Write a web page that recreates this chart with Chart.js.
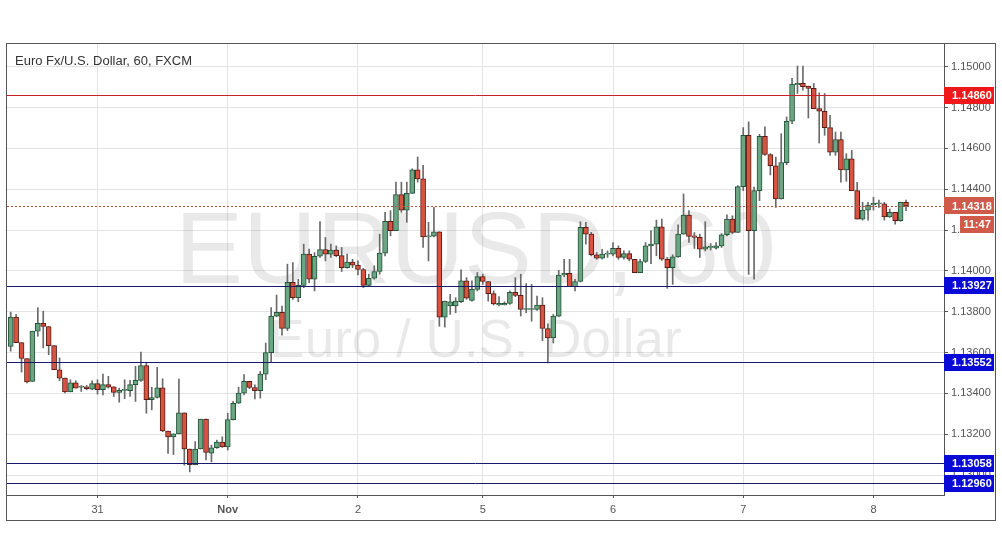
<!DOCTYPE html>
<html><head><meta charset="utf-8">
<script src="https://cdn.jsdelivr.net/npm/chart.js@4.4.1/dist/chart.umd.min.js"></script>
<style>html,body{margin:0;padding:0;background:#fff;overflow:hidden}canvas{display:block}</style>
</head><body>
<canvas id="c" width="1002" height="557"></canvas>
<script>
const title = 'Euro Fx/U.S. Dollar, 60, FXCM';
const watermark = ['EURUSD, 60', 'Euro / U.S. Dollar'];

const opens = [
1.13630,1.13774,1.13649,1.13571,1.13459,1.13705,1.13743,1.13728,1.13634,1.13516,
1.13475,1.13408,1.13452,1.13431,1.13433,1.13421,1.13448,1.13418,1.13443,1.13433,
1.13405,1.13415,1.13413,1.13443,1.13464,1.13536,1.13369,1.13380,1.13428,1.13216,
1.13187,1.13202,1.13305,1.13128,1.13051,1.13128,1.13274,1.13108,1.13134,1.13162,
1.13138,1.13272,1.13352,1.13401,1.13459,1.13429,1.13413,1.13495,1.13600,1.13779,
1.13797,1.13718,1.13944,1.13869,1.13929,1.14082,1.13959,1.14072,1.14105,1.14082,
1.14102,1.14075,1.14016,1.14043,1.14028,1.14007,1.13929,1.13964,1.13997,1.14087,
1.14243,1.14197,1.14374,1.14298,1.14380,1.14495,1.14451,1.14167,1.14170,1.14192,
1.13774,1.13828,1.13828,1.13849,1.13951,1.13856,1.13910,1.13972,1.13948,1.13889,
1.13833,1.13833,1.13841,1.13895,1.13880,1.13811,1.13811,1.13811,1.13833,1.13718,
1.13672,1.13779,1.13980,1.13988,1.13923,1.13948,1.14213,1.14180,1.14079,1.14062,
1.14082,1.14082,1.14111,1.14066,1.14085,1.14057,1.13992,1.14046,1.14123,1.14131,
1.14216,1.14057,1.14016,1.14069,1.14180,1.14274,1.14172,1.14164,1.14106,1.14115,
1.14111,1.14123,1.14177,1.14254,1.14188,1.14413,1.14664,1.14197,1.14393,1.14659,
1.14570,1.14515,1.14352,1.14530,1.14733,1.14912,1.14918,1.14905,1.14894,1.14795,
1.14782,1.14702,1.14582,1.14643,1.14495,1.14549,1.14393,1.14254,1.14298,1.14323,
1.14328,1.14328,1.14265,1.14287,1.14246,1.14336];

const highs = [
1.13798,1.13787,1.13649,1.13571,1.13705,1.13820,1.13803,1.13728,1.13634,1.13574,
1.13475,1.13467,1.13462,1.13439,1.13439,1.13462,1.13467,1.13495,1.13484,1.13433,
1.13426,1.13467,1.13464,1.13533,1.13602,1.13549,1.13430,1.13528,1.13472,1.13216,
1.13202,1.13470,1.13305,1.13128,1.13164,1.13274,1.13274,1.13147,1.13172,1.13188,
1.13303,1.13361,1.13430,1.13492,1.13459,1.13442,1.13508,1.13647,1.13820,1.13882,
1.13828,1.14033,1.14041,1.13959,1.14131,1.14107,1.14090,1.14241,1.14164,1.14131,
1.14123,1.14115,1.14082,1.14057,1.14049,1.14013,1.13984,1.14025,1.14180,1.14287,
1.14295,1.14435,1.14435,1.14435,1.14500,1.14558,1.14517,1.14238,1.14311,1.14192,
1.13852,1.13885,1.13869,1.14005,1.13967,1.13951,1.13992,1.13984,1.13948,1.13902,
1.13874,1.13849,1.13902,1.13967,1.13984,1.13938,1.13934,1.13877,1.13869,1.13741,
1.13787,1.14003,1.14057,1.14057,1.13959,1.14241,1.14238,1.14189,1.14090,1.14106,
1.14098,1.14139,1.14123,1.14098,1.14098,1.14057,1.14057,1.14139,1.14197,1.14249,
1.14254,1.14066,1.14079,1.14226,1.14377,1.14295,1.14188,1.14180,1.14241,1.14134,
1.14139,1.14183,1.14275,1.14270,1.14418,1.14702,1.14730,1.14410,1.14669,1.14705,
1.14574,1.14557,1.14672,1.14754,1.14943,1.15003,1.15003,1.14905,1.14918,1.14872,
1.14869,1.14762,1.14680,1.14680,1.14574,1.14590,1.14434,1.14336,1.14336,1.14361,
1.14347,1.14336,1.14303,1.14287,1.14336,1.14347];

const lows = [
1.13607,1.13649,1.13505,1.13451,1.13459,1.13680,1.13623,1.13590,1.13516,1.13462,
1.13402,1.13408,1.13426,1.13410,1.13418,1.13418,1.13397,1.13393,1.13426,1.13385,
1.13357,1.13374,1.13385,1.13361,1.13459,1.13303,1.13320,1.13377,1.13213,1.13106,
1.13101,1.13202,1.13049,1.13016,1.13051,1.13128,1.13074,1.13065,1.13131,1.13136,
1.13123,1.13270,1.13351,1.13393,1.13423,1.13373,1.13377,1.13467,1.13554,1.13775,
1.13685,1.13708,1.13861,1.13849,1.13918,1.13943,1.13902,1.14066,1.14049,1.14066,
1.14069,1.13997,1.14013,1.14016,1.13980,1.13918,1.13926,1.13959,1.13984,1.14074,
1.14172,1.14197,1.14287,1.14238,1.14380,1.14435,1.14115,1.14049,1.14167,1.13729,
1.13725,1.13787,1.13795,1.13844,1.13861,1.13852,1.13902,1.13934,1.13852,1.13833,
1.13828,1.13833,1.13836,1.13874,1.13779,1.13795,1.13754,1.13806,1.13659,1.13549,
1.13647,1.13775,1.13972,1.13923,1.13902,1.13946,1.14131,1.14074,1.14057,1.14057,
1.14066,1.14074,1.14057,1.14057,1.14049,1.13992,1.13992,1.14041,1.14036,1.14074,
1.14052,1.13915,1.13934,1.14066,1.14180,1.14139,1.14110,1.14066,1.14098,1.14102,
1.14106,1.14115,1.14172,1.14183,1.14188,1.14393,1.13983,1.13959,1.14344,1.14566,
1.14470,1.14311,1.14352,1.14520,1.14721,1.14869,1.14885,1.14749,1.14795,1.14626,
1.14664,1.14566,1.14566,1.14434,1.14439,1.14393,1.14254,1.14249,1.14249,1.14298,
1.14311,1.14249,1.14262,1.14229,1.14243,1.14295];

const closes = [
1.13774,1.13649,1.13571,1.13456,1.13705,1.13743,1.13728,1.13634,1.13516,1.13475,
1.13407,1.13452,1.13426,1.13433,1.13423,1.13448,1.13418,1.13443,1.13431,1.13405,
1.13415,1.13415,1.13443,1.13464,1.13536,1.13369,1.13380,1.13428,1.13216,1.13187,
1.13202,1.13305,1.13128,1.13051,1.13128,1.13274,1.13111,1.13134,1.13162,1.13138,
1.13272,1.13352,1.13402,1.13459,1.13429,1.13413,1.13495,1.13600,1.13779,1.13797,
1.13718,1.13944,1.13869,1.13929,1.14082,1.13959,1.14072,1.14105,1.14082,1.14102,
1.14075,1.14016,1.14043,1.14028,1.14007,1.13929,1.13964,1.13997,1.14087,1.14243,
1.14197,1.14374,1.14298,1.14380,1.14495,1.14451,1.14167,1.14170,1.14192,1.13774,
1.13852,1.13849,1.13852,1.13951,1.13866,1.13910,1.13972,1.13948,1.13889,1.13839,
1.13841,1.13841,1.13895,1.13880,1.13811,1.13811,1.13811,1.13833,1.13718,1.13672,
1.13779,1.13980,1.13988,1.13923,1.13948,1.14213,1.14180,1.14079,1.14062,1.14082,
1.14082,1.14111,1.14066,1.14085,1.14057,1.13992,1.14046,1.14123,1.14131,1.14216,
1.14057,1.14016,1.14069,1.14180,1.14274,1.14169,1.14164,1.14106,1.14118,1.14115,
1.14123,1.14177,1.14254,1.14188,1.14413,1.14664,1.14197,1.14393,1.14659,1.14570,
1.14515,1.14352,1.14530,1.14733,1.14915,1.14918,1.14902,1.14894,1.14795,1.14782,
1.14702,1.14582,1.14643,1.14495,1.14549,1.14393,1.14254,1.14298,1.14323,1.14331,
1.14328,1.14265,1.14287,1.14246,1.14336,1.14318];

const dayLabels = ['31', 'Nov', '2', '5', '6', '7', '8'];
const dayStarts = [16, 40, 64, 87, 111, 135, 159];
const priceTicks = [1.130, 1.132, 1.134, 1.136, 1.138, 1.140, 1.142, 1.144, 1.146, 1.148, 1.150];
const resistanceLevels = [1.14860];
const supportLevels = [1.13927, 1.13552, 1.13058, 1.12960];
const lastPrice = 1.14318;
const countdown = '11:47';

const FONT = '"Liberation Sans", Arial, sans-serif';
const UP = '#6ba583', UP_B = '#225437', DN = '#d75442', DN_B = '#5b1a13';
const isUp = i => closes[i] >= opens[i];

const bodies = opens.map((o, i) => ({ x: i, y: [o, closes[i]] }));
const wicks = lows.map((l, i) => ({ x: i, y: [l, highs[i]] }));

const overlay = {
  id: 'overlay',
  beforeDatasetsDraw(chart) {
    const { ctx, chartArea: a } = chart;
    ctx.save();
    ctx.beginPath(); ctx.rect(a.left, a.top, a.right - a.left, a.bottom - a.top); ctx.clip();
    ctx.fillStyle = 'rgba(0,0,0,0.085)';
    ctx.textAlign = 'center'; ctx.textBaseline = 'alphabetic';
    const cx = (a.left + a.right) / 2;
    ctx.font = '102px ' + FONT;
    ctx.fillText(watermark[0], cx, a.top + 240);
    ctx.font = '53px ' + FONT;
    ctx.fillText(watermark[1], cx, a.top + 314);
    ctx.restore();
  },
  afterDatasetsDraw(chart) {
    const { ctx, chartArea: a } = chart;
    const ys = chart.scales.y;
    ctx.save();
    ctx.beginPath(); ctx.rect(a.left, a.top, a.right - a.left, a.bottom - a.top); ctx.clip();
    ctx.lineWidth = 1;
    const hline = (v, color, dash) => {
      const py = Math.round(ys.getPixelForValue(v)) + 0.5;
      ctx.strokeStyle = color; ctx.setLineDash(dash || []);
      ctx.beginPath(); ctx.moveTo(a.left, py); ctx.lineTo(a.right, py); ctx.stroke();
    };
    hline(lastPrice, '#b5533e', [2, 2]);
    resistanceLevels.forEach(v => hline(v, '#c8202c'));
    supportLevels.forEach(v => hline(v, '#1a1a6c'));
    ctx.restore();
  },
  afterDraw(chart) {
    const { ctx, chartArea: a } = chart;
    const ys = chart.scales.y, xs = chart.scales.x;
    ctx.save();
    ctx.fillStyle = '#333';
    ctx.font = '13px ' + FONT;
    ctx.textAlign = 'left'; ctx.textBaseline = 'alphabetic';
    ctx.fillText(title, a.left + 8, a.top + 22);
    const box = (v, text, color) => {
      const py = ys.getPixelForValue(v);
      ctx.fillStyle = color;
      ctx.fillRect(ys.left, Math.round(py - 8.5), ys.right - ys.left - 2, 17);
      ctx.fillStyle = '#fff';
      ctx.font = 'bold 11px ' + FONT;
      ctx.textAlign = 'left'; ctx.textBaseline = 'middle';
      ctx.fillText(text, ys.left + 8, py + 0.5);
      return py;
    };
    resistanceLevels.forEach(v => box(v, v.toFixed(5), '#f01818'));
    supportLevels.forEach(v => box(v, v.toFixed(5), '#0a0ad6'));
    const lp = box(lastPrice, lastPrice.toFixed(5), '#cf5a49');
    ctx.fillStyle = '#cf5a49';
    ctx.fillRect(ys.left + 16, Math.round(lp + 10), ys.right - ys.left - 18, 17);
    ctx.fillStyle = '#fff';
    ctx.textAlign = 'center';
    ctx.fillText(countdown, ys.left + 16 + (ys.right - ys.left - 18) / 2, Math.round(lp + 10) + 9);
    ctx.strokeStyle = '#555'; ctx.lineWidth = 1;
    ctx.strokeRect(a.left - 0.5, a.top + 0.5, ys.right - a.left, xs.bottom - a.top);
    ctx.restore();
  }
};

new Chart(document.getElementById('c'), {
  type: 'bar',
  data: {
    datasets: [
      {
        label: 'body', data: bodies, grouped: false,
        backgroundColor: c => isUp(c.dataIndex) ? UP : DN,
        borderColor: c => isUp(c.dataIndex) ? UP_B : DN_B,
        borderWidth: 1, borderSkipped: false, barThickness: 5, minBarLength: 1
      },
      {
        label: 'wick', data: wicks, grouped: false,
        backgroundColor: '#6a6a6a', borderWidth: 0, barThickness: 1
      }
    ]
  },
  options: {
    responsive: false, animation: false, devicePixelRatio: 1,
    layout: { padding: { left: 7, top: 43, right: 6, bottom: 37 } },
    plugins: { legend: { display: false }, tooltip: { enabled: false } },
    scales: {
      x: {
        type: 'linear', min: -0.68, max: 172, offset: false,
        afterBuildTicks: s => { s.ticks = dayStarts.map(v => ({ value: v })); },
        afterFit: s => { s.height = 25; },
        ticks: {
          autoSkip: false, maxRotation: 0, padding: 5, color: '#555',
          font: c => ({ family: FONT, size: 11, weight: (c.tick && dayLabels[dayStarts.indexOf(c.tick.value)] === 'Nov') ? 'bold' : 'normal' }),
          callback: v => { const k = dayStarts.indexOf(v); return k >= 0 ? dayLabels[k] : ''; }
        },
        grid: { color: '#e4e4e4', tickColor: '#555', tickLength: 3, offset: false },
        border: { display: true, color: '#555' }
      },
      y: {
        type: 'linear', position: 'right', min: 1.129027, max: 1.151161,
        afterBuildTicks: s => { s.ticks = priceTicks.map(v => ({ value: v })); },
        afterFit: s => { s.width = 52; },
        ticks: { padding: 3, color: '#555', font: { family: FONT, size: 11 }, callback: v => v.toFixed(5) },
        grid: { color: '#e4e4e4', tickColor: '#555', tickLength: 4 },
        border: { display: true, color: '#555' }
      }
    }
  },
  plugins: [overlay]
});
</script>
</body></html>
